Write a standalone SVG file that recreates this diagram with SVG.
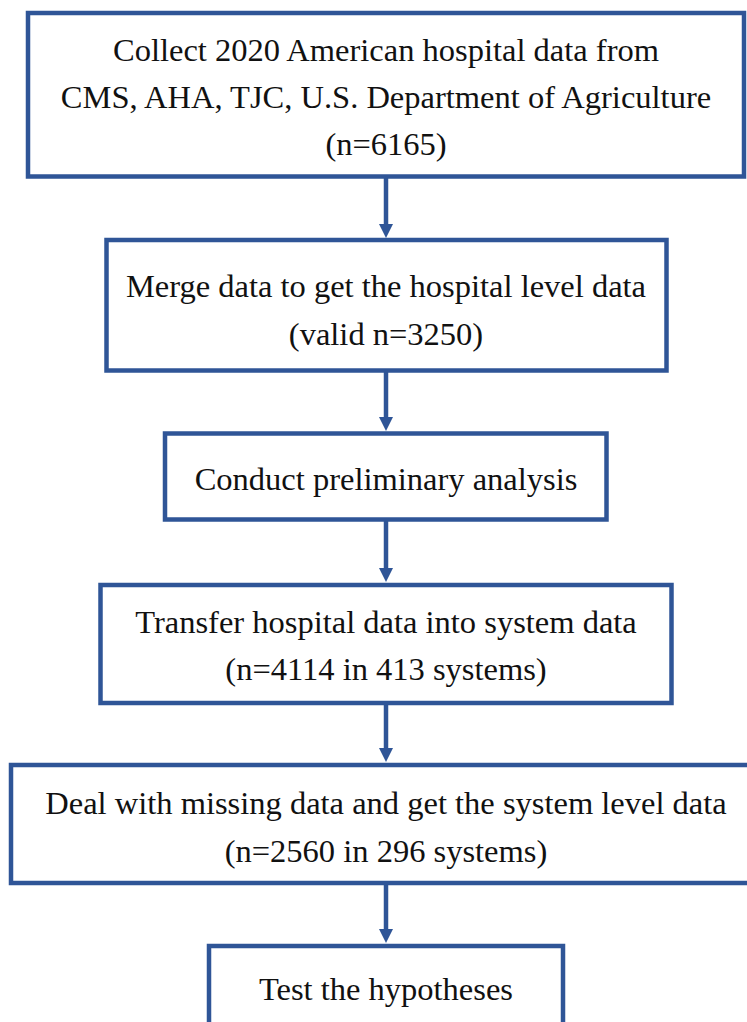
<svg xmlns="http://www.w3.org/2000/svg" width="747" height="1022" viewBox="0 0 747 1022">
  <style>
    .box { fill: #ffffff; stroke: #2F5597; stroke-width: 4.5; }
    .lbl { font-family: "Liberation Serif", "Times New Roman", serif; font-size: 32.5px; fill: #111111; text-anchor: middle; }
    .link { stroke: #2F5597; stroke-width: 4.5; fill: none; }
    .head { fill: #2F5597; }
  </style>
  <rect width="747" height="1022" fill="#ffffff"/>

  <g id="connectors">
    <line class="link" x1="386" y1="176" x2="386" y2="226"/>
    <polygon class="head" points="379,224 393,224 386,238"/>
    <line class="link" x1="386" y1="370" x2="386" y2="419"/>
    <polygon class="head" points="379,417 393,417 386,431"/>
    <line class="link" x1="386" y1="519" x2="386" y2="570"/>
    <polygon class="head" points="379,568 393,568 386,582"/>
    <line class="link" x1="386" y1="703" x2="386" y2="750"/>
    <polygon class="head" points="379,748 393,748 386,762"/>
    <line class="link" x1="386" y1="883" x2="386" y2="931"/>
    <polygon class="head" points="379,929 393,929 386,943"/>
  </g>

  <g id="collect">
    <rect class="box" x="28" y="13" width="716" height="163.5"/>
    <text class="lbl" x="386" y="61">Collect 2020 American hospital data from</text>
    <text class="lbl" x="386" y="108">CMS, AHA, TJC, U.S. Department of Agriculture</text>
    <text class="lbl" x="386" y="155">(n=6165)</text>
  </g>

  <g id="merge">
    <rect class="box" x="106.5" y="240" width="560" height="130.5"/>
    <text class="lbl" x="386" y="297">Merge data to get the hospital level data</text>
    <text class="lbl" x="386" y="345">(valid n=3250)</text>
  </g>

  <g id="preliminary">
    <rect class="box" x="165" y="433.5" width="441.5" height="86"/>
    <text class="lbl" x="386" y="490">Conduct preliminary analysis</text>
  </g>

  <g id="transfer">
    <rect class="box" x="100.5" y="585" width="571" height="118"/>
    <text class="lbl" x="386" y="633">Transfer hospital data into system data</text>
    <text class="lbl" x="386" y="680">(n=4114 in 413 systems)</text>
  </g>

  <g id="missing">
    <rect class="box" x="11" y="765" width="760" height="118"/>
    <text class="lbl" x="386" y="814">Deal with missing data and get the system level data</text>
    <text class="lbl" x="386" y="862">(n=2560 in 296 systems)</text>
  </g>

  <g id="hypotheses">
    <rect class="box" x="209" y="946" width="354" height="100"/>
    <text class="lbl" x="386" y="1000">Test the hypotheses</text>
  </g>
</svg>
